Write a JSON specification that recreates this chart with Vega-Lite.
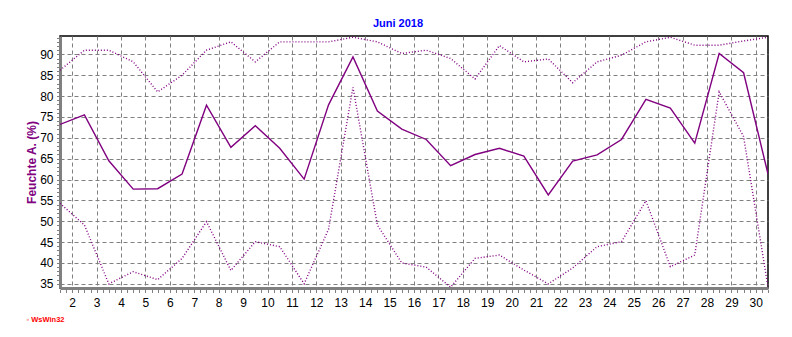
{
  "$schema": "https://vega.github.io/schema/vega-lite/v6.json",
  "width": 708,
  "height": 252,
  "autosize": "none",
  "padding": {"left": 60, "top": 36, "right": 24, "bottom": 49},
  "background": "white",
  "config": {
    "view": {"stroke": "black", "strokeWidth": 1.5},
    "font": "Liberation Sans"
  },
  "title": {"text": "Juni 2018", "color": "#0000ff", "fontSize": 11, "font": "Liberation Sans", "fontWeight": "bold", "anchor": "middle", "dx": -16, "offset": 7},
  "data": {"values": [
    {"day": 1, "mean": 73.2, "max": 86.2, "min": 54.3},
    {"day": 2, "mean": 75.5, "max": 91.0, "min": 49.1},
    {"day": 3, "mean": 64.5, "max": 91.0, "min": 35.0},
    {"day": 4, "mean": 57.7, "max": 88.2, "min": 37.9},
    {"day": 5, "mean": 57.8, "max": 81.0, "min": 36.0},
    {"day": 6, "mean": 61.3, "max": 85.0, "min": 41.1},
    {"day": 7, "mean": 77.8, "max": 91.0, "min": 49.9},
    {"day": 8, "mean": 67.7, "max": 93.0, "min": 38.2},
    {"day": 9, "mean": 72.9, "max": 88.2, "min": 45.1},
    {"day": 10, "mean": 67.5, "max": 93.0, "min": 43.9},
    {"day": 11, "mean": 60.1, "max": 93.0, "min": 35.0},
    {"day": 12, "mean": 77.9, "max": 93.0, "min": 48.1},
    {"day": 13, "mean": 89.4, "max": 94.1, "min": 82.1},
    {"day": 14, "mean": 76.4, "max": 93.0, "min": 49.1},
    {"day": 15, "mean": 72.1, "max": 90.2, "min": 40.0},
    {"day": 16, "mean": 69.6, "max": 91.0, "min": 39.0},
    {"day": 17, "mean": 63.3, "max": 89.0, "min": 34.2},
    {"day": 18, "mean": 66.0, "max": 84.1, "min": 41.1},
    {"day": 19, "mean": 67.5, "max": 92.1, "min": 41.9},
    {"day": 20, "mean": 65.6, "max": 88.2, "min": 38.3},
    {"day": 21, "mean": 56.3, "max": 88.9, "min": 35.0},
    {"day": 22, "mean": 64.4, "max": 83.2, "min": 38.8},
    {"day": 23, "mean": 65.9, "max": 88.2, "min": 43.9},
    {"day": 24, "mean": 69.6, "max": 89.8, "min": 45.1},
    {"day": 25, "mean": 79.2, "max": 93.0, "min": 54.9},
    {"day": 26, "mean": 77.1, "max": 94.1, "min": 39.1},
    {"day": 27, "mean": 68.7, "max": 92.2, "min": 41.9},
    {"day": 28, "mean": 90.2, "max": 92.2, "min": 81.0},
    {"day": 29, "mean": 85.6, "max": 93.2, "min": 70.3},
    {"day": 30, "mean": 61.3, "max": 94.1, "min": 34.2}
  ]},
  "layer": [
    {
      "mark": {"type": "line", "opacity": 0},
      "encoding": {
        "x": {"field": "day", "type": "quantitative", "scale": {"domain": [1, 30], "nice": false, "zero": false},
          "axis": {"orient": "bottom", "values": [1,1.25,1.5,1.75,2,2.25,2.5,2.75,3,3.25,3.5,3.75,4,4.25,4.5,4.75,5,5.25,5.5,5.75,6,6.25,6.5,6.75,7,7.25,7.5,7.75,8,8.25,8.5,8.75,9,9.25,9.5,9.75,10,10.25,10.5,10.75,11,11.25,11.5,11.75,12,12.25,12.5,12.75,13,13.25,13.5,13.75,14,14.25,14.5,14.75,15,15.25,15.5,15.75,16,16.25,16.5,16.75,17,17.25,17.5,17.75,18,18.25,18.5,18.75,19,19.25,19.5,19.75,20,20.25,20.5,20.75,21,21.25,21.5,21.75,22,22.25,22.5,22.75,23,23.25,23.5,23.75,24,24.25,24.5,24.75,25,25.25,25.5,25.75,26,26.25,26.5,26.75,27,27.25,27.5,27.75,28,28.25,28.5,28.75,29,29.25,29.5,29.75,30],
            "labels": false, "domain": false, "grid": false, "ticks": true, "tickSize": 3, "tickColor": "#808080", "tickWidth": 1, "offset": 1.5, "title": null}},
        "y": {"field": "mean", "type": "quantitative", "scale": {"domain": [34, 94.4], "nice": false, "zero": false},
          "axis": {"orient": "left", "values": [35,36,37,38,39,40,41,42,43,44,45,46,47,48,49,50,51,52,53,54,55,56,57,58,59,60,61,62,63,64,65,66,67,68,69,70,71,72,73,74,75,76,77,78,79,80,81,82,83,84,85,86,87,88,89,90,91,92,93,94],
            "labels": false, "domain": false, "grid": false, "ticks": true, "tickSize": 2, "tickColor": "#808080", "tickWidth": 1, "offset": 1.5, "title": null}}
      }
    },
    {
      "mark": {"type": "line", "color": "#800080", "strokeWidth": 1.4, "clip": true},
      "encoding": {
        "x": {"field": "day", "type": "quantitative", "scale": {"domain": [1, 30], "nice": false, "zero": false},
          "axis": {"orient": "bottom", "values": [1.5,2.5,3.5,4.5,5.5,6.5,7.5,8.5,9.5,10.5,11.5,12.5,13.5,14.5,15.5,16.5,17.5,18.5,19.5,20.5,21.5,22.5,23.5,24.5,25.5,26.5,27.5,28.5,29.5],
            "labelExpr": "datum.value + 0.5", "grid": true, "gridColor": "#808080", "gridDash": [4, 3], "gridWidth": 1, "gridOpacity": 1,
            "domain": true, "domainColor": "#808080", "domainWidth": 3, "ticks": false, "labelPadding": 9, "labelFontSize": 12, "labelColor": "black", "labelFont": "Liberation Sans", "labelFlush": false,
            "title": "◦ WsWin32", "titleColor": "#ff0000", "titleFontSize": 7.5, "titleFont": "Liberation Sans", "titleFontWeight": "bold", "titleAnchor": "start", "titleX": -34, "titleY": 31, "titleBaseline": "middle"}},
        "y": {"field": "mean", "type": "quantitative", "scale": {"domain": [34, 94.4], "nice": false, "zero": false},
          "axis": {"orient": "left", "values": [35,40,45,50,55,60,65,70,75,80,85,90],
            "grid": true, "gridColor": "#808080", "gridDash": [4, 3], "gridWidth": 1, "gridOpacity": 1,
            "domain": true, "domainColor": "#808080", "domainWidth": 3, "ticks": false, "labelPadding": 7, "labelFontSize": 12, "labelColor": "black", "labelFont": "Liberation Sans",
            "title": "Feuchte A.  (%)", "titleColor": "#800080", "titleFontSize": 12, "titleFont": "Liberation Sans", "titleFontWeight": "bold", "titlePadding": 1}}
      }
    },
    {
      "mark": {"type": "line", "color": "#800080", "strokeWidth": 1.4, "strokeDash": [1, 2], "clip": true},
      "encoding": {
        "x": {"field": "day", "type": "quantitative", "scale": {"domain": [1, 30], "nice": false, "zero": false}, "axis": null},
        "y": {"field": "max", "type": "quantitative", "scale": {"domain": [34, 94.4], "nice": false, "zero": false}, "axis": null}
      }
    },
    {
      "mark": {"type": "line", "color": "#800080", "strokeWidth": 1.4, "strokeDash": [1, 2], "clip": true},
      "encoding": {
        "x": {"field": "day", "type": "quantitative", "scale": {"domain": [1, 30], "nice": false, "zero": false}, "axis": null},
        "y": {"field": "min", "type": "quantitative", "scale": {"domain": [34, 94.4], "nice": false, "zero": false}, "axis": null}
      }
    }
  ],
  "resolve": {"axis": {"x": "independent", "y": "independent"}}
}
